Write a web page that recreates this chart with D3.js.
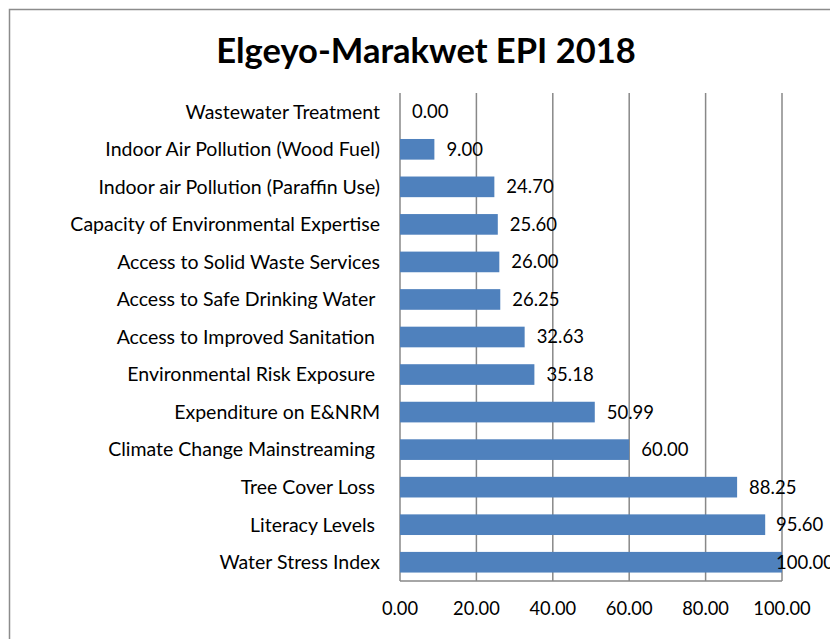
<!DOCTYPE html>
<html>
<head>
<meta charset="utf-8">
<script src="https://cdn.jsdelivr.net/npm/d3@7"></script>
<style>
  body { margin: 0; background: #fff; }
  svg text { font-family: Lato, "Open Sans", sans-serif; white-space: pre; }
</style>
</head>
<body>
<div id="chart"></div>
<script>
  const categories = [
    'Wastewater Treatment',
    'Indoor Air Pollution (Wood Fuel)',
    'Indoor air Pollution (Paraffin Use)',
    'Capacity of Environmental Expertise',
    'Access to Solid Waste Services',
    'Access to Safe Drinking Water ',
    'Access to Improved Sanitation ',
    'Environmental Risk Exposure ',
    'Expenditure on E&NRM',
    'Climate Change Mainstreaming ',
    'Tree Cover Loss ',
    'Literacy Levels ',
    'Water Stress Index'
  ];
  const values = [0.00, 9.00, 24.70, 25.60, 26.00, 26.25, 32.63, 35.18, 50.99, 60.00, 88.25, 95.60, 100.00];
  const ticks = [0, 20, 40, 60, 80, 100];

  const width = 830, height = 639;
  const plotLeft = 400, plotRight = 782, plotTop = 93, plotBottom = 581;

  const svg = d3.select('#chart').append('svg')
      .attr('width', width)
      .attr('height', height);

  // chart frame
  svg.append('rect')
      .attr('x', 9.5).attr('y', 9.5)
      .attr('width', width + 20).attr('height', height + 20)
      .attr('fill', '#fff')
      .attr('stroke', '#8c8c8c')
      .attr('stroke-width', 1.5);

  svg.append('text')
      .attr('x', 426)
      .attr('y', 63)
      .attr('text-anchor', 'middle')
      .attr('font-size', 34.5)
      .attr('font-weight', 'bold')
      .text('Elgeyo-Marakwet EPI 2018');

  const x = d3.scaleLinear().domain([0, 100]).range([plotLeft, plotRight]);
  const y = d3.scaleBand().domain(categories).range([plotTop, plotBottom]).paddingInner(0.45).paddingOuter(0.225);

  // gridlines
  svg.append('g')
    .selectAll('line')
    .data(ticks)
    .join('line')
      .attr('x1', d => x(d)).attr('x2', d => x(d))
      .attr('y1', plotTop).attr('y2', plotBottom)
      .attr('stroke', '#888')
      .attr('stroke-width', 1.5);

  // bars
  svg.append('g')
    .selectAll('rect')
    .data(values)
    .join('rect')
      .attr('x', x(0))
      .attr('y', (d, i) => y(categories[i]))
      .attr('width', d => x(d) - x(0))
      .attr('height', y.bandwidth())
      .attr('fill', '#4f81bd');

  // bottom axis line
  svg.append('line')
      .attr('x1', plotLeft).attr('x2', plotRight)
      .attr('y1', plotBottom).attr('y2', plotBottom)
      .attr('stroke', '#888').attr('stroke-width', 1.5);

  // tick labels
  svg.append('g')
      .attr('font-size', 18.3)
      .attr('text-anchor', 'middle')
    .selectAll('text')
    .data(ticks)
    .join('text')
      .attr('x', d => x(d))
      .attr('y', 615)
      .text(d => d.toFixed(2));

  // category labels
  svg.append('g')
      .attr('font-size', 19.5)
      .attr('text-anchor', 'end')
    .selectAll('text')
    .data(categories)
    .join('text')
      .attr('x', 380)
      .attr('y', d => y(d) + y.bandwidth() / 2)
      .attr('dy', '0.35em')
      .text(d => d);

  // value labels (last one is pushed back inside, as in the source)
  svg.append('g')
      .attr('font-size', 18.5)
    .selectAll('text')
    .data(values)
    .join('text')
      .attr('x', d => Math.min(x(d) + 12, 776))
      .attr('y', (d, i) => y(categories[i]) + y.bandwidth() / 2)
      .attr('dy', '0.35em')
      .text(d => d.toFixed(2));
</script>
</body>
</html>
